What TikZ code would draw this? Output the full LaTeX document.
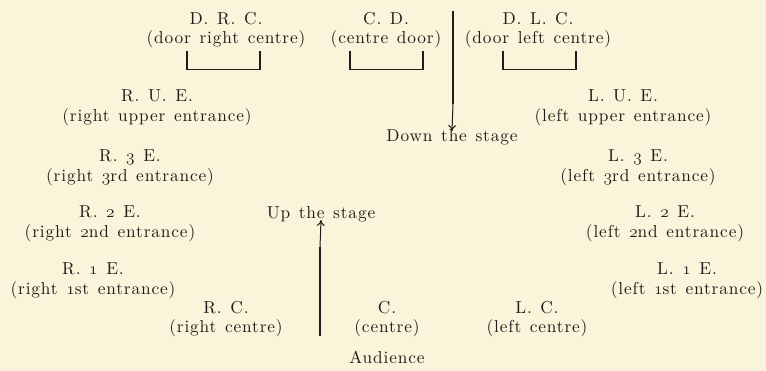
\documentclass[tikz,border=0pt]{standalone}
\usepackage{fontspec}
\setmainfont{lmroman10-regular}[Extension=.otf, LetterSpace=5, WordSpace=1.3]
\usetikzlibrary{arrows.meta}
\definecolor{paper}{HTML}{FAF4DA}
\definecolor{ink}{HTML}{1E1D1A}
\newcommand{\os}[1]{{\fontencoding{OML}\fontfamily{cmm}\fontseries{m}\fontshape{it}\selectfont #1}}
\tikzset{
  lbl/.style={align=center, inner sep=0pt, text=ink, font=\fontsize{17.3}{19.5}\selectfont},
  heavy/.style={draw=ink, line width=2.6pt},
  doorpost/.style={draw=ink, line width=1.7pt},
  doorsill/.style={draw=ink, line width=1pt},
  dirarrow/.style={draw=ink, line width=1pt, -{To[length=6pt,width=8pt]}}
}
\begin{document}
\begin{tikzpicture}[x=1pt,y=-1pt]
\fill[paper] (0,0) rectangle (766,371);
\useasboundingbox (0,0) rectangle (766,371);
% doors
\node[lbl] (drc) at (226,30) {D. R. C.\\(door right centre)};
\node[lbl] (cd)  at (386,30) {C. D.\\(centre door)};
\node[lbl] (dlc) at (538,30) {D. L. C.\\(door left centre)};
\coordinate (drcA) at (187,51); \coordinate (drcB) at (187,70);
\coordinate (drcC) at (260,70); \coordinate (drcD) at (260,51);
\draw[doorpost] (drcA) -- (drcB); \draw[doorsill] (drcB) -- (drcC); \draw[doorpost] (drcC) -- (drcD);
\coordinate (cdA) at (350,51); \coordinate (cdB) at (350,70);
\coordinate (cdC) at (423,70); \coordinate (cdD) at (423,51);
\draw[doorpost] (cdA) -- (cdB); \draw[doorsill] (cdB) -- (cdC); \draw[doorpost] (cdC) -- (cdD);
\coordinate (dlcA) at (503,51); \coordinate (dlcB) at (503,70);
\coordinate (dlcC) at (576,70); \coordinate (dlcD) at (576,51);
\draw[doorpost] (dlcA) -- (dlcB); \draw[doorsill] (dlcB) -- (dlcC); \draw[doorpost] (dlcC) -- (dlcD);
% right side
\node[lbl] (rue) at (157,108) {R. U. E.\\(right upper entrance)};
\node[lbl] (r3e) at (130,168) {R. \os{3} E.\\(right \os{3}rd entrance)};
\node[lbl] (r2e) at (110,224) {R. \os{2} E.\\(right \os{2}nd entrance)};
\node[lbl] (r1e) at (93,281) {R. \os{1} E.\\(right \os{1}st entrance)};
\node[lbl] (rc)  at (226,319) {R. C.\\(right centre)};
% left side
\node[lbl] (lue) at (623,108) {L. U. E.\\(left upper entrance)};
\node[lbl] (l3e) at (638,168) {L. \os{3} E.\\(left \os{3}rd entrance)};
\node[lbl] (l2e) at (665,224) {L. \os{2} E.\\(left \os{2}nd entrance)};
\node[lbl] (l1e) at (687,281) {L. \os{1} E.\\(left \os{1}st entrance)};
\node[lbl] (lc)  at (537,319) {L. C.\\(left centre)};
% centre
\node[lbl] (c)   at (387,319) {C.\\(centre)};
\node[lbl] (aud) at (387,357) {Audience};
\node[lbl] (down) at (452,137) {Down the stage};
\node[lbl] (up)   at (321,214) {Up the stage};
% arrows
\coordinate (dtop) at (453,11); \coordinate (dmid) at (453,104);
\draw[heavy] (dtop) -- (dmid);
\draw[dirarrow] (dmid) -- ([yshift=-2pt]down.north);
\coordinate (ubot) at (320,336); \coordinate (umid) at (320,247);
\draw[heavy] (ubot) -- (umid);
\draw[dirarrow] (umid) -- ([yshift=2pt]up.south);
\end{tikzpicture}
\end{document}
